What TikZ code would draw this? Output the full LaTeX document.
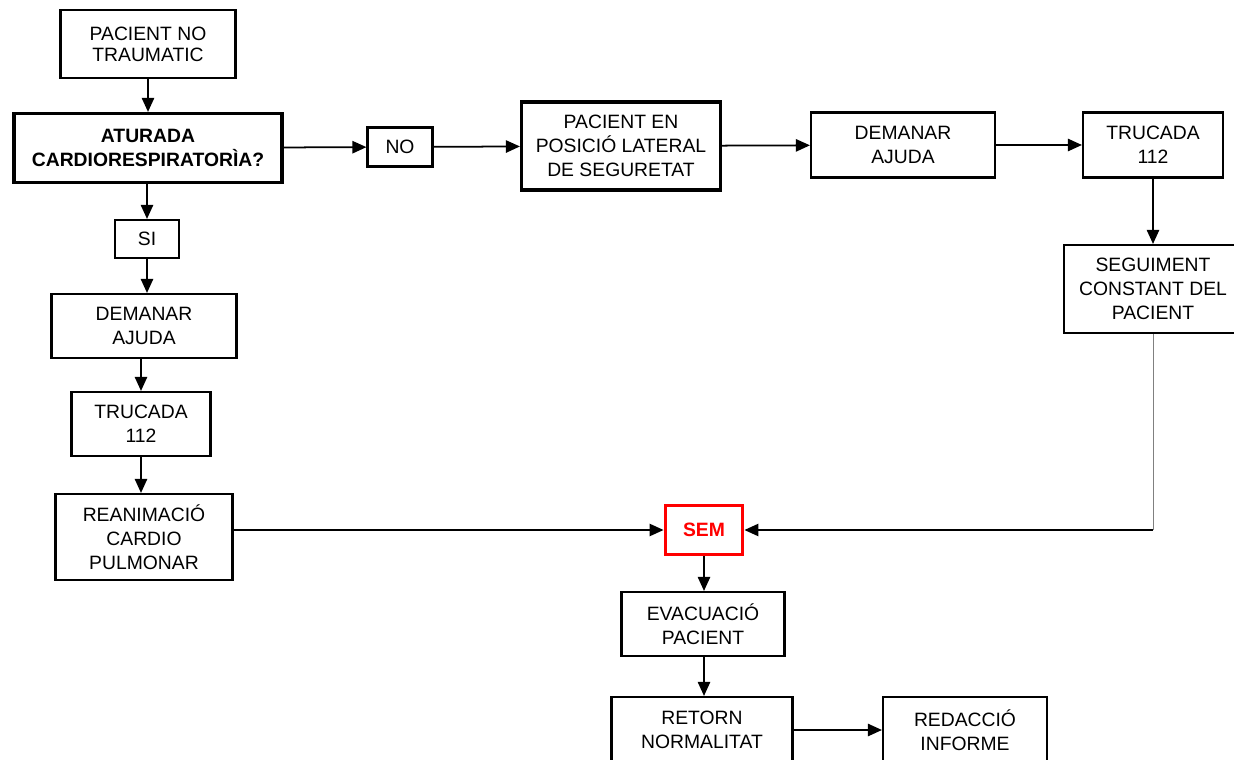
\documentclass[tikz,border=0pt]{standalone}
\usepackage{fontspec}
\setmainfont{Liberation Sans}
\usetikzlibrary{arrows.meta}

\begin{document}
\begin{tikzpicture}[x=0.02cm,y=-0.02cm,
  box/.style={draw,line width=1.2pt,align=center,inner sep=1pt,
    font=\fontsize{11}{13.5}\selectfont},
  thickbox/.style={box,line width=1.8pt},
  edge/.style={-{Triangle[length=8pt,width=7pt]},line width=1pt}
]
  \useasboundingbox (0,0) rectangle (1234,760);
  \node[box,minimum width=3.5cm,minimum height=1.36cm,font=\fontsize{11}{12}\selectfont] (trauma) at (148,44) {PACIENT NO\\TRAUMATIC};
  \node[thickbox,minimum width=5.36cm,minimum height=1.38cm,font=\fontsize{11}{13.5}\selectfont\bfseries] (aturada) at (148,148) {ATURADA\\CARDIORESPIRATORÌA?};
  \node[box,minimum width=1.3cm,minimum height=0.78cm] (no) at (400,147) {NO};
  \node[thickbox,minimum width=3.98cm,minimum height=1.76cm] (lateral) at (621,146) {PACIENT EN\\POSICIÓ LATERAL\\DE SEGURETAT};
  \node[box,minimum width=3.68cm,minimum height=1.3cm] (ajudaA) at (903,145) {DEMANAR\\AJUDA};
  \node[box,minimum width=2.8cm,minimum height=1.3cm] (trucA) at (1153,145) {TRUCADA\\112};
  \node[box,minimum width=3.56cm,minimum height=1.76cm] (seguiment) at (1153,289) {SEGUIMENT\\CONSTANT DEL\\PACIENT};
  \node[box,minimum width=1.28cm,minimum height=0.76cm] (si) at (147,239) {SI};
  \node[box,minimum width=3.7cm,minimum height=1.28cm] (ajudaB) at (144,326) {DEMANAR\\AJUDA};
  \node[box,minimum width=2.78cm,minimum height=1.28cm] (trucB) at (141,424) {TRUCADA\\112};
  \node[box,minimum width=3.54cm,minimum height=1.72cm] (rcp) at (144,537) {REANIMACIÓ\\CARDIO\\PULMONAR};
  \node[draw=red,line width=2.2pt,minimum width=1.54cm,minimum height=0.98cm,text=red,
    font=\fontsize{11}{13.5}\selectfont\bfseries] (sem) at (704,530) {SEM};
  \node[box,minimum width=3.26cm,minimum height=1.28cm] (evac) at (703,624) {EVACUACIÓ\\PACIENT};
  \node[box,minimum width=3.62cm,minimum height=1.32cm] (retorn) at (702,730) {RETORN\\NORMALITAT};
  \node[box,minimum width=3.28cm,minimum height=1.32cm] (informe) at (965,730) {REDACCIÓ\\INFORME};
  \coordinate (corner) at (seguiment.south |- sem.east);

  \draw[edge] (trauma) -- (trauma |- aturada.north);
  \draw[edge] (aturada) -- (no);
  \draw[edge] (no) -- (lateral);
  \draw[edge] (lateral) -- (ajudaA);
  \draw[edge] (ajudaA) -- (trucA);
  \draw[edge] (trucA) -- (seguiment);
  \draw[thin,gray] (seguiment.south) -- (corner);
  \draw[edge] (corner) -- (sem.east);
  \draw[edge] (aturada.south -| si) -- (si);
  \draw[edge] (si) -- (si |- ajudaB.north);
  \draw[edge] (trucB |- ajudaB.south) -- (trucB);
  \draw[edge] (trucB) -- (trucB |- rcp.north);
  \draw[edge] (rcp.east |- sem) -- (sem);
  \draw[edge] (sem) -- (sem |- evac.north);
  \draw[edge] (sem |- evac.south) -- (sem |- retorn.north);
  \draw[edge] (retorn) -- (informe);
\end{tikzpicture}
\end{document}
